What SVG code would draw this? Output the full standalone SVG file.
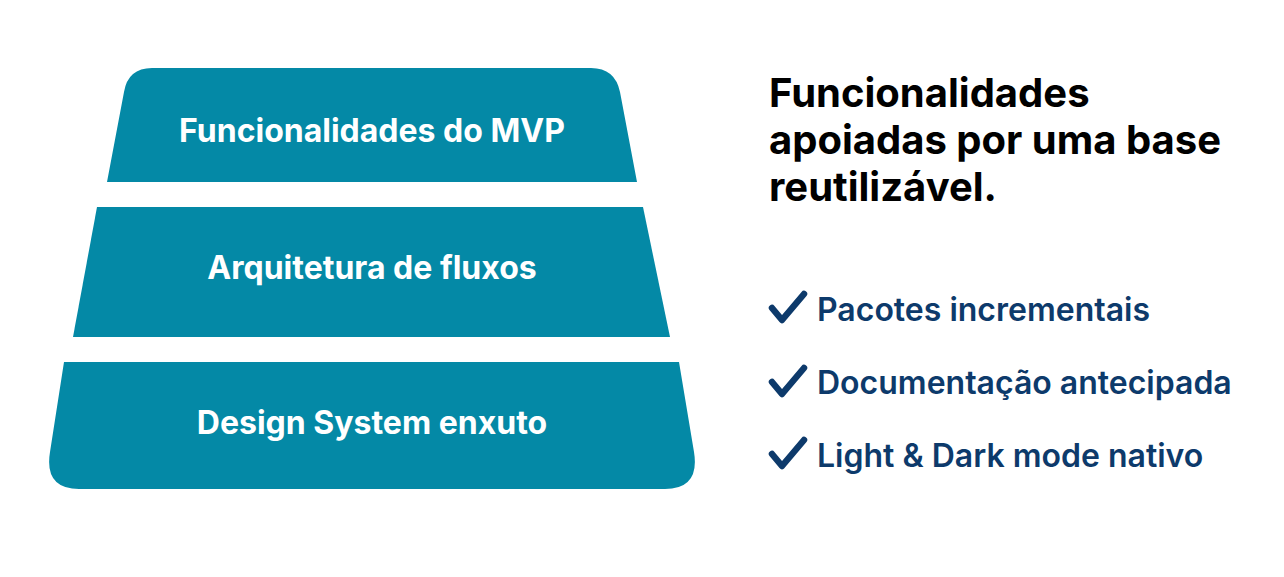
<svg xmlns="http://www.w3.org/2000/svg" width="1284" height="577" viewBox="0 0 1284 577">
<style>
.tier{fill:#0489a6}
.tl{font-family:Inter,"Liberation Sans",sans-serif;font-weight:700;font-size:32px;fill:#fff;text-anchor:middle}
.title{font-family:Inter,"Liberation Sans",sans-serif;font-weight:700;font-size:40px;fill:#000}
.item{font-family:Inter,"Liberation Sans",sans-serif;font-weight:600;font-size:32px;fill:#0d3a6b}
.chk{fill:none;stroke:#0d3a6b;stroke-width:6.5;stroke-linecap:round;stroke-linejoin:round}
</style>
<rect width="1284" height="577" fill="#fff"/>
<g id="tier-top">
<path class="tier" d="M107,182 L124,92 Q128,68 152,68 L591,68 Q615,68 620,92 L637,182 Z"/>
<text class="tl" x="372" y="142">Funcionalidades do MVP</text>
</g>
<g id="tier-middle">
<path class="tier" d="M97,207 L643,207 L670,337 L73,337 Z"/>
<text class="tl" x="372" y="279">Arquitetura de fluxos</text>
</g>
<g id="tier-bottom">
<path class="tier" d="M64,362 L679,362 L694,452 Q700,489 665,489 L79,489 Q44,489 50,452 Z"/>
<text class="tl" x="372" y="434">Design System enxuto</text>
</g>
<g id="title">
<text class="title" x="769" y="107">Funcionalidades</text>
<text class="title" x="769" y="154">apoiadas por uma base</text>
<text class="title" x="769" y="201">reutilizável.</text>
</g>
<g id="item-1">
<path class="chk" d="M772,308 L782,320 L804,294"/>
<text class="item" x="817" y="321">Pacotes incrementais</text>
</g>
<g id="item-2">
<path class="chk" d="M772,382 L782,394 L804,368"/>
<text class="item" x="817" y="394">Documentação antecipada</text>
</g>
<g id="item-3">
<path class="chk" d="M772,454 L782,466 L804,440"/>
<text class="item" x="817" y="467">Light &amp; Dark mode nativo</text>
</g>
<g id="connectors"/>
</svg>
